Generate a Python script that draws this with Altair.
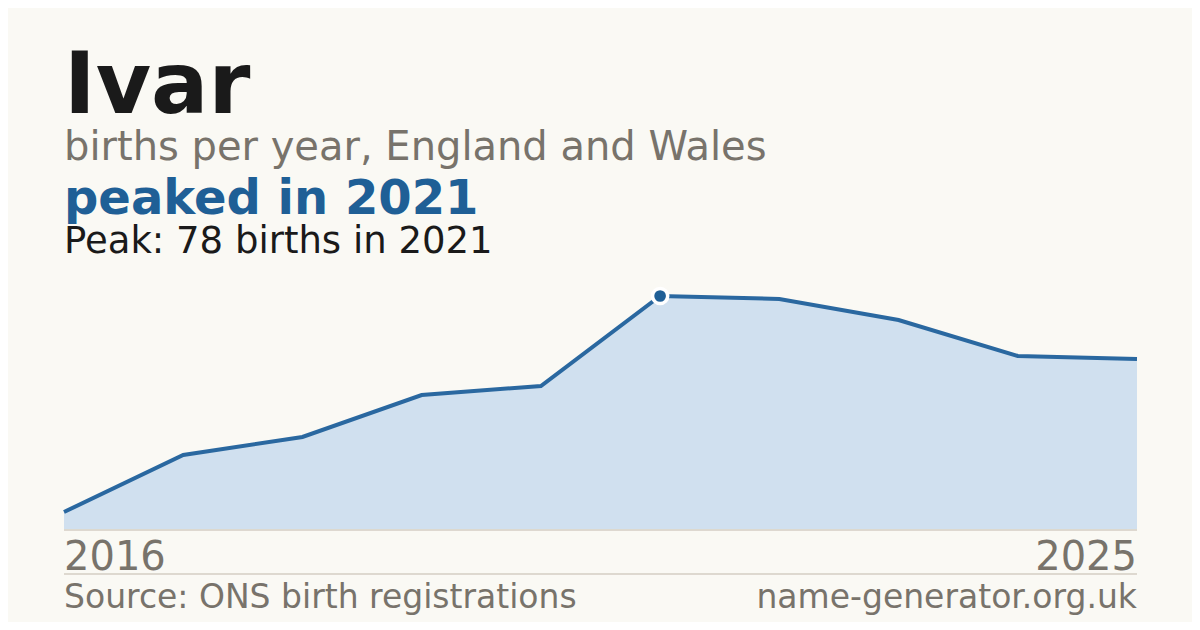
import altair as alt
import pandas as pd

years = [2016, 2017, 2018, 2019, 2020, 2021, 2022, 2023, 2024, 2025]
births = [6, 25, 31, 45, 48, 78, 77, 70, 58, 57]

title_text = "Ivar"
subtitle_text = "births per year, England and Wales"
headline_text = "peaked in 2021"
peak_text = "Peak: 78 births in 2021"
source_text = "Source: ONS birth registrations"
site_text = "name-generator.org.uk"
peak_year = 2021
peak_value = 78

BG = "#faf9f4"
DARK = "#1a1a1a"
GRAY = "#78736b"
BLUE = "#1f5f96"
LINE = "#2a68a0"
FILL = "#d0e0ef"
RULE = "#ddd8cf"
FONT = "DejaVu Sans"

W, H = 1073, 234

df = pd.DataFrame({"year": years, "births": births})
peak_df = pd.DataFrame({"year": [peak_year], "births": [peak_value]})

xs = alt.Scale(domain=[years[0], years[-1]], nice=False, zero=False)
ys = alt.Scale(domain=[0, peak_value], nice=False, zero=True)

X = alt.X("year:Q", scale=xs, axis=None)
Y = alt.Y("births:Q", scale=ys, axis=None)

area = alt.Chart(df).mark_area(color=FILL, opacity=1).encode(x=X, y=Y)
line = alt.Chart(df).mark_line(color=LINE, strokeWidth=4, strokeJoin="miter").encode(x=X, y=Y)
point = alt.Chart(peak_df).mark_point(
    shape="circle", filled=True, size=230, color=BLUE, stroke="white", strokeWidth=3.5, opacity=1
).encode(x=X, y=Y)

base_rule = alt.Chart(df).mark_rule(color=RULE, strokeWidth=1).encode(
    x=alt.value(0), x2=alt.value(W), y=alt.value(H)
)
sep_rule = alt.Chart(df).mark_rule(color=RULE, strokeWidth=1).encode(
    x=alt.value(0), x2=alt.value(W), y=alt.value(278)
)


def txt(text, x, y, size, color, weight="normal", align="left"):
    return alt.Chart(pd.DataFrame({"t": [text]})).mark_text(
        font=FONT, fontSize=size, color=color, fontWeight=weight,
        align=align, baseline="alphabetic"
    ).encode(x=alt.value(x), y=alt.value(y), text="t:N")


texts = [
    txt(title_text, 0, -183, 85, DARK, "bold"),
    txt(subtitle_text, 0, -136, 40, GRAY),
    txt(headline_text, 0, -82, 48, BLUE, "bold"),
    txt(peak_text, 0, -43, 37, DARK),
    txt(str(years[0]), 0, 274, 40, GRAY),
    txt(str(years[-1]), W, 274, 40, GRAY, align="right"),
    txt(source_text, 0, 312, 33, GRAY),
    txt(site_text, W, 312, 33, GRAY, align="right"),
]

chart = alt.layer(area, base_rule, line, point, sep_rule, *texts).properties(
    width=W, height=H,
    autosize=alt.AutoSizeParams(type="none"),
    padding={"left": 56, "top": 288, "right": 55, "bottom": 92},
    background=BG,
).configure_view(stroke=None)

chart.save("out.html", embed_options={"renderer": "svg", "actions": False})
